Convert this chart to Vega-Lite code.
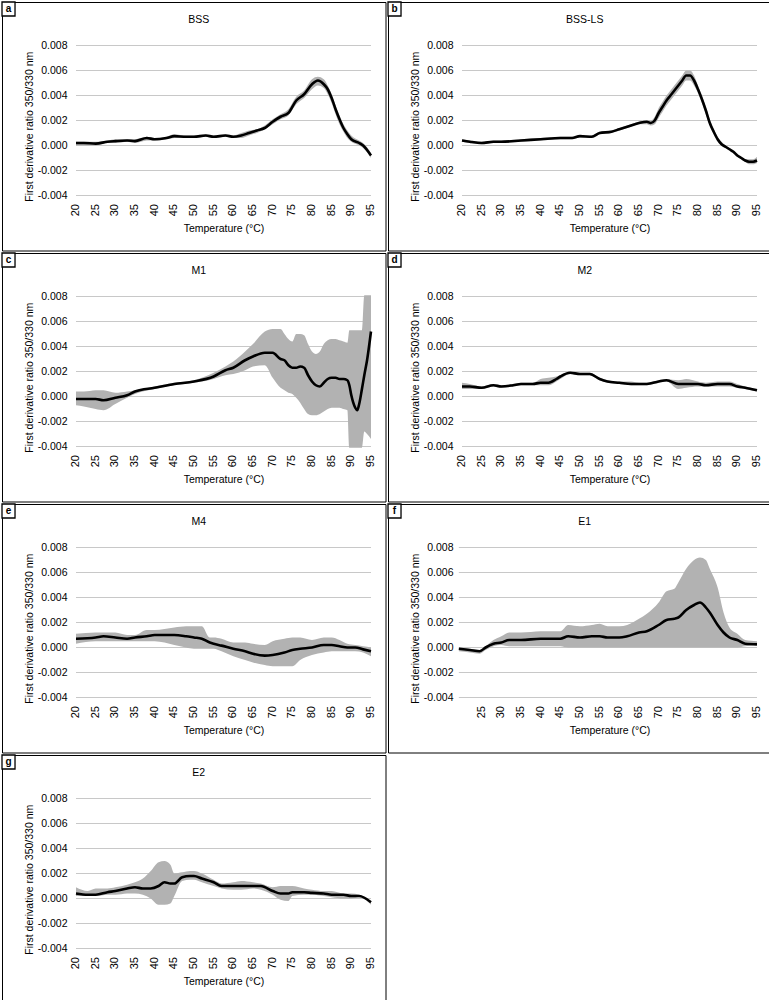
{
  "$schema": "https://vega.github.io/schema/vega-lite/v6.json",
  "padding": 0,
  "background": "white",
  "columns": 2,
  "spacing": 0,
  "datasets": {
    "grid": [{"v": -0.004}, {"v": -0.002}, {"v": 0}, {"v": 0.002}, {"v": 0.004}, {"v": 0.006}, {"v": 0.008}],
    "ticks": [{"v": 20}, {"v": 25}, {"v": 30}, {"v": 35}, {"v": 40}, {"v": 45}, {"v": 50}, {"v": 55}, {"v": 60}, {"v": 65}, {"v": 70}, {"v": 75}, {"v": 80}, {"v": 85}, {"v": 90}, {"v": 95}],
    "bss": [
      {"t": 20, "m": 0.0002, "lo": 0.0, "hi": 0.0003},
      {"t": 22, "m": 0.0002, "lo": 0.0, "hi": 0.0003},
      {"t": 25, "m": 0.00015, "lo": 0.0, "hi": 0.0003},
      {"t": 28, "m": 0.0003, "lo": 0.0002, "hi": 0.0004},
      {"t": 30, "m": 0.00035, "lo": 0.0002, "hi": 0.0005},
      {"t": 33, "m": 0.0004, "lo": 0.0003, "hi": 0.0005},
      {"t": 35, "m": 0.00035, "lo": 0.0002, "hi": 0.0005},
      {"t": 38, "m": 0.0006, "lo": 0.0004, "hi": 0.0007},
      {"t": 40, "m": 0.0005, "lo": 0.0004, "hi": 0.0006},
      {"t": 43, "m": 0.0006, "lo": 0.0005, "hi": 0.0007},
      {"t": 45, "m": 0.00075, "lo": 0.0006, "hi": 0.0009},
      {"t": 48, "m": 0.0007, "lo": 0.0006, "hi": 0.0008},
      {"t": 50, "m": 0.0007, "lo": 0.0006, "hi": 0.0008},
      {"t": 53, "m": 0.0008, "lo": 0.0007, "hi": 0.0009},
      {"t": 55, "m": 0.0007, "lo": 0.0006, "hi": 0.0008},
      {"t": 58, "m": 0.0008, "lo": 0.0007, "hi": 0.0009},
      {"t": 60, "m": 0.0007, "lo": 0.0006, "hi": 0.0008},
      {"t": 62, "m": 0.0008, "lo": 0.0006, "hi": 0.001},
      {"t": 64, "m": 0.001, "lo": 0.0008, "hi": 0.0012},
      {"t": 66, "m": 0.0012, "lo": 0.001, "hi": 0.0013},
      {"t": 68, "m": 0.0014, "lo": 0.0013, "hi": 0.0016},
      {"t": 70, "m": 0.0019, "lo": 0.0017, "hi": 0.0021},
      {"t": 72, "m": 0.0023, "lo": 0.0021, "hi": 0.0025},
      {"t": 74, "m": 0.0026, "lo": 0.0024, "hi": 0.0029},
      {"t": 76, "m": 0.0036, "lo": 0.0033, "hi": 0.0039},
      {"t": 78, "m": 0.0041, "lo": 0.0038, "hi": 0.0044},
      {"t": 80, "m": 0.0049, "lo": 0.0045, "hi": 0.0053},
      {"t": 81.5, "m": 0.0052, "lo": 0.0048, "hi": 0.0055},
      {"t": 83, "m": 0.0049, "lo": 0.0046, "hi": 0.0053},
      {"t": 84, "m": 0.0045, "lo": 0.0041, "hi": 0.0048},
      {"t": 85, "m": 0.0038, "lo": 0.0034, "hi": 0.0041},
      {"t": 86, "m": 0.0029, "lo": 0.0025, "hi": 0.0032},
      {"t": 87, "m": 0.0021, "lo": 0.0017, "hi": 0.0024},
      {"t": 88, "m": 0.0014, "lo": 0.0011, "hi": 0.0017},
      {"t": 89, "m": 0.0009, "lo": 0.0006, "hi": 0.0012},
      {"t": 90, "m": 0.0005, "lo": 0.0003, "hi": 0.0008},
      {"t": 92, "m": 0.0002, "lo": 0.0, "hi": 0.0004},
      {"t": 93, "m": 0.0, "lo": -0.0002, "hi": 0.0002},
      {"t": 95, "m": -0.0008, "lo": -0.001, "hi": -0.0006}
    ],
    "bssls": [
      {"t": 20, "m": 0.0004, "lo": 0.0003, "hi": 0.0005},
      {"t": 22, "m": 0.0003, "lo": 0.0002, "hi": 0.0004},
      {"t": 25, "m": 0.0002, "lo": 0.0001, "hi": 0.0003},
      {"t": 28, "m": 0.0003, "lo": 0.0002, "hi": 0.0004},
      {"t": 30, "m": 0.0003, "lo": 0.0002, "hi": 0.0004},
      {"t": 35, "m": 0.0004, "lo": 0.0003, "hi": 0.0005},
      {"t": 40, "m": 0.0005, "lo": 0.0004, "hi": 0.0006},
      {"t": 45, "m": 0.0006, "lo": 0.0005, "hi": 0.0007},
      {"t": 48, "m": 0.0006, "lo": 0.0005, "hi": 0.0007},
      {"t": 50, "m": 0.00075, "lo": 0.00065, "hi": 0.00085},
      {"t": 53, "m": 0.0007, "lo": 0.0006, "hi": 0.0008},
      {"t": 55, "m": 0.001, "lo": 0.0009, "hi": 0.0011},
      {"t": 58, "m": 0.0011, "lo": 0.001, "hi": 0.0012},
      {"t": 60, "m": 0.0013, "lo": 0.0012, "hi": 0.0014},
      {"t": 62, "m": 0.0015, "lo": 0.0014, "hi": 0.0016},
      {"t": 65, "m": 0.0018, "lo": 0.0017, "hi": 0.0019},
      {"t": 67, "m": 0.0019, "lo": 0.0017, "hi": 0.002},
      {"t": 68, "m": 0.0018, "lo": 0.0016, "hi": 0.002},
      {"t": 69, "m": 0.002, "lo": 0.0017, "hi": 0.0023},
      {"t": 70, "m": 0.0026, "lo": 0.0022, "hi": 0.003},
      {"t": 71, "m": 0.0031, "lo": 0.0027, "hi": 0.0035},
      {"t": 72, "m": 0.0036, "lo": 0.0032, "hi": 0.004},
      {"t": 73, "m": 0.004, "lo": 0.0036, "hi": 0.0044},
      {"t": 74, "m": 0.0044, "lo": 0.004, "hi": 0.0048},
      {"t": 75, "m": 0.0048, "lo": 0.0044, "hi": 0.0052},
      {"t": 76, "m": 0.0052, "lo": 0.0048, "hi": 0.0056},
      {"t": 77, "m": 0.0056, "lo": 0.0052, "hi": 0.006},
      {"t": 78, "m": 0.0056, "lo": 0.0052, "hi": 0.006},
      {"t": 79, "m": 0.0052, "lo": 0.0048, "hi": 0.0056},
      {"t": 80, "m": 0.0045, "lo": 0.0042, "hi": 0.0048},
      {"t": 81, "m": 0.0037, "lo": 0.0034, "hi": 0.004},
      {"t": 82, "m": 0.0028, "lo": 0.0025, "hi": 0.0031},
      {"t": 83, "m": 0.0018, "lo": 0.0016, "hi": 0.0021},
      {"t": 84, "m": 0.0011, "lo": 0.0009, "hi": 0.0013},
      {"t": 85, "m": 0.0005, "lo": 0.0003, "hi": 0.0007},
      {"t": 86, "m": 0.0001, "lo": 0.0, "hi": 0.0003},
      {"t": 87, "m": -0.0001, "lo": -0.0002, "hi": 0.0},
      {"t": 88, "m": -0.0003, "lo": -0.0004, "hi": -0.0002},
      {"t": 89, "m": -0.0005, "lo": -0.0006, "hi": -0.0004},
      {"t": 90, "m": -0.0008, "lo": -0.0009, "hi": -0.0007},
      {"t": 91, "m": -0.001, "lo": -0.0011, "hi": -0.0009},
      {"t": 92, "m": -0.0012, "lo": -0.0013, "hi": -0.0011},
      {"t": 93, "m": -0.0013, "lo": -0.0015, "hi": -0.0011},
      {"t": 94, "m": -0.0013, "lo": -0.0015, "hi": -0.0011},
      {"t": 95, "m": -0.0012, "lo": -0.0014, "hi": -0.0009}
    ],
    "m1": [
      {"t": 20, "m": -0.0002, "lo": -0.0007, "hi": 0.0004},
      {"t": 22, "m": -0.0002, "lo": -0.0008, "hi": 0.0004},
      {"t": 25, "m": -0.0002, "lo": -0.001, "hi": 0.0005},
      {"t": 27, "m": -0.0003, "lo": -0.0011, "hi": 0.0005},
      {"t": 30, "m": -0.0001, "lo": -0.0006, "hi": 0.0003},
      {"t": 33, "m": 0.0001, "lo": -0.0001, "hi": 0.0004},
      {"t": 35, "m": 0.0004, "lo": 0.0002, "hi": 0.0005},
      {"t": 40, "m": 0.0007, "lo": 0.0006, "hi": 0.0008},
      {"t": 45, "m": 0.001, "lo": 0.0009, "hi": 0.0011},
      {"t": 50, "m": 0.0012, "lo": 0.0011, "hi": 0.0013},
      {"t": 55, "m": 0.0016, "lo": 0.0014, "hi": 0.0019},
      {"t": 58, "m": 0.0021, "lo": 0.0017, "hi": 0.0024},
      {"t": 60, "m": 0.0023, "lo": 0.0018, "hi": 0.0028},
      {"t": 63, "m": 0.0029, "lo": 0.0021, "hi": 0.0036},
      {"t": 65, "m": 0.0032, "lo": 0.0024, "hi": 0.0042},
      {"t": 68, "m": 0.0035, "lo": 0.0025, "hi": 0.0052},
      {"t": 70, "m": 0.0035, "lo": 0.0015, "hi": 0.0054},
      {"t": 72, "m": 0.003, "lo": 0.0007, "hi": 0.0054},
      {"t": 73, "m": 0.0029, "lo": 0.0005, "hi": 0.005},
      {"t": 74, "m": 0.0025, "lo": 0.0003, "hi": 0.0046},
      {"t": 75, "m": 0.0023, "lo": 0.0002, "hi": 0.0044},
      {"t": 76, "m": 0.0023, "lo": -0.0001, "hi": 0.005},
      {"t": 77, "m": 0.0024, "lo": -0.0005, "hi": 0.005},
      {"t": 78, "m": 0.0023, "lo": -0.001, "hi": 0.0049},
      {"t": 79, "m": 0.0017, "lo": -0.0014, "hi": 0.0042},
      {"t": 80, "m": 0.0012, "lo": -0.0015, "hi": 0.0036},
      {"t": 81, "m": 0.0009, "lo": -0.0015, "hi": 0.0034},
      {"t": 82, "m": 0.0008, "lo": -0.0014, "hi": 0.0036},
      {"t": 83, "m": 0.0011, "lo": -0.0012, "hi": 0.0042},
      {"t": 84, "m": 0.0014, "lo": -0.001, "hi": 0.0045},
      {"t": 85, "m": 0.0015, "lo": -0.0009, "hi": 0.0046},
      {"t": 86, "m": 0.0015, "lo": -0.0009, "hi": 0.0046},
      {"t": 87, "m": 0.0014, "lo": -0.0009, "hi": 0.0045},
      {"t": 88, "m": 0.0014, "lo": -0.001, "hi": 0.0044},
      {"t": 89, "m": 0.0013, "lo": -0.0011, "hi": 0.0043},
      {"t": 89.5, "m": 0.0009, "lo": -0.0041, "hi": 0.0053},
      {"t": 90, "m": 0.0001, "lo": -0.0041, "hi": 0.0053},
      {"t": 91, "m": -0.0009, "lo": -0.0041, "hi": 0.0053},
      {"t": 91.5, "m": -0.0011, "lo": -0.0041, "hi": 0.0053},
      {"t": 92, "m": -0.0006, "lo": -0.0041, "hi": 0.0053},
      {"t": 92.7, "m": 0.0006, "lo": -0.0041, "hi": 0.0053},
      {"t": 93.3, "m": 0.0017, "lo": -0.0028, "hi": 0.0081},
      {"t": 94, "m": 0.0029, "lo": -0.003, "hi": 0.0081},
      {"t": 95, "m": 0.0052, "lo": -0.0034, "hi": 0.0081}
    ],
    "m2": [
      {"t": 20, "m": 0.0008, "lo": 0.0006, "hi": 0.0011},
      {"t": 22, "m": 0.0008, "lo": 0.0006, "hi": 0.001},
      {"t": 25, "m": 0.0007, "lo": 0.0006, "hi": 0.0008},
      {"t": 28, "m": 0.0009, "lo": 0.0008, "hi": 0.001},
      {"t": 30, "m": 0.0008, "lo": 0.0007, "hi": 0.0009},
      {"t": 33, "m": 0.0009, "lo": 0.0008, "hi": 0.001},
      {"t": 35, "m": 0.001, "lo": 0.0009, "hi": 0.0011},
      {"t": 38, "m": 0.001, "lo": 0.0009, "hi": 0.0011},
      {"t": 40, "m": 0.0011, "lo": 0.0009, "hi": 0.0014},
      {"t": 42, "m": 0.0011, "lo": 0.0009, "hi": 0.0015},
      {"t": 44, "m": 0.0014, "lo": 0.0012, "hi": 0.0016},
      {"t": 45, "m": 0.0016, "lo": 0.0014, "hi": 0.0017},
      {"t": 47.5, "m": 0.0019, "lo": 0.0018, "hi": 0.002},
      {"t": 50, "m": 0.0018, "lo": 0.0017, "hi": 0.0019},
      {"t": 52.5, "m": 0.0018, "lo": 0.0017, "hi": 0.0019},
      {"t": 55, "m": 0.0014, "lo": 0.0013, "hi": 0.0015},
      {"t": 57, "m": 0.0012, "lo": 0.0011, "hi": 0.0013},
      {"t": 60, "m": 0.0011, "lo": 0.001, "hi": 0.0012},
      {"t": 63, "m": 0.001, "lo": 0.0009, "hi": 0.0012},
      {"t": 65, "m": 0.001, "lo": 0.0009, "hi": 0.0011},
      {"t": 67, "m": 0.001, "lo": 0.0009, "hi": 0.0011},
      {"t": 70, "m": 0.0012, "lo": 0.0011, "hi": 0.0013},
      {"t": 72, "m": 0.0013, "lo": 0.0012, "hi": 0.0014},
      {"t": 75, "m": 0.001, "lo": 0.0006, "hi": 0.0013},
      {"t": 77, "m": 0.001, "lo": 0.0007, "hi": 0.0014},
      {"t": 80, "m": 0.001, "lo": 0.0008, "hi": 0.0012},
      {"t": 82, "m": 0.0009, "lo": 0.0008, "hi": 0.0011},
      {"t": 85, "m": 0.001, "lo": 0.0008, "hi": 0.0012},
      {"t": 88, "m": 0.001, "lo": 0.0008, "hi": 0.0012},
      {"t": 90, "m": 0.0008, "lo": 0.0007, "hi": 0.001},
      {"t": 92, "m": 0.0007, "lo": 0.0006, "hi": 0.0008},
      {"t": 95, "m": 0.0005, "lo": 0.0004, "hi": 0.0006}
    ],
    "m4": [
      {"t": 20, "m": 0.0007, "lo": 0.0003, "hi": 0.0011},
      {"t": 25, "m": 0.0008, "lo": 0.0005, "hi": 0.0012},
      {"t": 27, "m": 0.0009, "lo": 0.0005, "hi": 0.0012},
      {"t": 30, "m": 0.0008, "lo": 0.0005, "hi": 0.0012},
      {"t": 33, "m": 0.0007, "lo": 0.0005, "hi": 0.001},
      {"t": 35, "m": 0.0008, "lo": 0.0005, "hi": 0.001},
      {"t": 38, "m": 0.0009, "lo": 0.0005, "hi": 0.0014},
      {"t": 40, "m": 0.001, "lo": 0.0005, "hi": 0.0014},
      {"t": 45, "m": 0.001, "lo": 0.0002, "hi": 0.0016},
      {"t": 48, "m": 0.0009, "lo": 0.0, "hi": 0.0017},
      {"t": 50, "m": 0.0008, "lo": -0.0001, "hi": 0.0017},
      {"t": 52, "m": 0.0007, "lo": -0.0001, "hi": 0.0017},
      {"t": 54, "m": 0.0004, "lo": -0.0001, "hi": 0.0008},
      {"t": 55, "m": 0.0003, "lo": -0.0001, "hi": 0.0008},
      {"t": 57, "m": 0.00015, "lo": -0.0003, "hi": 0.0007},
      {"t": 60, "m": -0.0001, "lo": -0.0007, "hi": 0.0004},
      {"t": 63, "m": -0.0003, "lo": -0.001, "hi": 0.0004},
      {"t": 65, "m": -0.0005, "lo": -0.0012, "hi": 0.0003},
      {"t": 68, "m": -0.00065, "lo": -0.0014, "hi": 0.0002},
      {"t": 70, "m": -0.0006, "lo": -0.0015, "hi": 0.0005},
      {"t": 73, "m": -0.0004, "lo": -0.0015, "hi": 0.0007},
      {"t": 75, "m": -0.0002, "lo": -0.0015, "hi": 0.0008},
      {"t": 77, "m": -0.0001, "lo": -0.001, "hi": 0.0008},
      {"t": 80, "m": 0.0, "lo": -0.0006, "hi": 0.0006},
      {"t": 83, "m": 0.0002, "lo": -0.0004, "hi": 0.0008},
      {"t": 85, "m": 0.0002, "lo": -0.0003, "hi": 0.0008},
      {"t": 87, "m": 0.0001, "lo": -0.0003, "hi": 0.0006},
      {"t": 89, "m": 0.0, "lo": -0.0003, "hi": 0.0003},
      {"t": 91, "m": 0.0, "lo": -0.0003, "hi": 0.0002},
      {"t": 93, "m": -0.00015, "lo": -0.0004, "hi": 0.0001},
      {"t": 95, "m": -0.0003, "lo": -0.0007, "hi": 0.0}
    ],
    "e1": [
      {"t": 19.2, "m": -0.0001, "lo": -0.0003, "hi": 0.0},
      {"t": 22, "m": -0.0002, "lo": -0.0004, "hi": -0.0001},
      {"t": 24.5, "m": -0.0003, "lo": -0.0005, "hi": -0.0002},
      {"t": 26, "m": 0.0, "lo": -0.0002, "hi": 0.0001},
      {"t": 28, "m": 0.0003, "lo": 0.0001, "hi": 0.0006},
      {"t": 30, "m": 0.0004, "lo": 0.0002, "hi": 0.0009},
      {"t": 32, "m": 0.0006, "lo": 0.0001, "hi": 0.0012},
      {"t": 35, "m": 0.0006, "lo": 0.0001, "hi": 0.0012},
      {"t": 40, "m": 0.0007, "lo": 0.0001, "hi": 0.0013},
      {"t": 45, "m": 0.0007, "lo": 0.0001, "hi": 0.0013},
      {"t": 47, "m": 0.0009, "lo": 0.0, "hi": 0.0018},
      {"t": 50, "m": 0.0008, "lo": 0.0, "hi": 0.0017},
      {"t": 53, "m": 0.0009, "lo": 0.0, "hi": 0.0018},
      {"t": 55, "m": 0.0009, "lo": 0.0, "hi": 0.0019},
      {"t": 57, "m": 0.0008, "lo": 0.0, "hi": 0.0017},
      {"t": 60, "m": 0.0008, "lo": 0.0, "hi": 0.0017},
      {"t": 62, "m": 0.0009, "lo": 0.0, "hi": 0.0018},
      {"t": 65, "m": 0.0012, "lo": 0.0, "hi": 0.0023},
      {"t": 67, "m": 0.0013, "lo": 0.0, "hi": 0.0027},
      {"t": 70, "m": 0.0018, "lo": 0.0, "hi": 0.0036},
      {"t": 72, "m": 0.0022, "lo": 0.0, "hi": 0.0045},
      {"t": 74, "m": 0.0023, "lo": 0.0, "hi": 0.0047},
      {"t": 75, "m": 0.0024, "lo": 0.0, "hi": 0.0052},
      {"t": 77, "m": 0.003, "lo": 0.0, "hi": 0.0063},
      {"t": 79, "m": 0.0034, "lo": 0.0, "hi": 0.007},
      {"t": 80.5, "m": 0.0036, "lo": 0.0, "hi": 0.0072},
      {"t": 82, "m": 0.0032, "lo": 0.0, "hi": 0.007},
      {"t": 83, "m": 0.0028, "lo": 0.0, "hi": 0.0063},
      {"t": 85, "m": 0.0018, "lo": 0.0, "hi": 0.0048},
      {"t": 86.5, "m": 0.0012, "lo": 0.0, "hi": 0.0028},
      {"t": 88, "m": 0.0008, "lo": 0.0, "hi": 0.0016},
      {"t": 90, "m": 0.0006, "lo": 0.0, "hi": 0.0011},
      {"t": 92, "m": 0.0003, "lo": 0.0001, "hi": 0.0006},
      {"t": 95, "m": 0.00025, "lo": 0.0002, "hi": 0.0005}
    ],
    "e2": [
      {"t": 20, "m": 0.0004, "lo": 0.0002, "hi": 0.0009},
      {"t": 23, "m": 0.0003, "lo": 0.0002, "hi": 0.0006},
      {"t": 25, "m": 0.0003, "lo": 0.0002, "hi": 0.0008},
      {"t": 28, "m": 0.0005, "lo": 0.0003, "hi": 0.0008},
      {"t": 30, "m": 0.0006, "lo": 0.0003, "hi": 0.0009},
      {"t": 33, "m": 0.0008, "lo": 0.0004, "hi": 0.0011},
      {"t": 35, "m": 0.0009, "lo": 0.0004, "hi": 0.0013},
      {"t": 37, "m": 0.0008, "lo": 0.0003, "hi": 0.0016},
      {"t": 39, "m": 0.0008, "lo": 0.0, "hi": 0.0022},
      {"t": 41, "m": 0.001, "lo": -0.0005, "hi": 0.0029},
      {"t": 42.5, "m": 0.0013, "lo": -0.0005, "hi": 0.003},
      {"t": 44, "m": 0.0012, "lo": -0.0004, "hi": 0.0027},
      {"t": 45, "m": 0.0012, "lo": 0.0002, "hi": 0.002},
      {"t": 47, "m": 0.0017, "lo": 0.0014, "hi": 0.0021},
      {"t": 49, "m": 0.0018, "lo": 0.0015, "hi": 0.0022},
      {"t": 50, "m": 0.0018, "lo": 0.0015, "hi": 0.0022},
      {"t": 52, "m": 0.0016, "lo": 0.0013, "hi": 0.002},
      {"t": 55, "m": 0.0013, "lo": 0.001, "hi": 0.0015},
      {"t": 57, "m": 0.001, "lo": 0.0008, "hi": 0.0012},
      {"t": 60, "m": 0.001, "lo": 0.0007, "hi": 0.0013},
      {"t": 62, "m": 0.001, "lo": 0.0007, "hi": 0.0014},
      {"t": 65, "m": 0.001, "lo": 0.0008, "hi": 0.0013},
      {"t": 67, "m": 0.001, "lo": 0.0007, "hi": 0.0012},
      {"t": 70, "m": 0.0006, "lo": 0.0003, "hi": 0.0009},
      {"t": 72, "m": 0.0004, "lo": -0.0001, "hi": 0.001},
      {"t": 74, "m": 0.0004, "lo": -0.0002, "hi": 0.001},
      {"t": 75, "m": 0.0005, "lo": 0.0002, "hi": 0.001},
      {"t": 78, "m": 0.0005, "lo": 0.0003, "hi": 0.0008},
      {"t": 80, "m": 0.00045, "lo": 0.0003, "hi": 0.0007},
      {"t": 83, "m": 0.0004, "lo": 0.0002, "hi": 0.0006},
      {"t": 85, "m": 0.0003, "lo": 0.0001, "hi": 0.0006},
      {"t": 88, "m": 0.0003, "lo": 0.0, "hi": 0.0004},
      {"t": 90, "m": 0.0002, "lo": 0.0, "hi": 0.0004},
      {"t": 92, "m": 0.0002, "lo": 0.0001, "hi": 0.0003},
      {"t": 95, "m": -0.0003, "lo": -0.0005, "hi": -0.0002}
    ]
  },
  "concat": [
    {
      "title": "BSS",
      "width": 383.5,
      "height": 248.5,
      "layer": [
        {
          "data": {"name": "grid"},
          "mark": {"type": "rule", "color": "#c8c8c8", "strokeWidth": 1},
          "encoding": {
            "x": {"datum": 20, "type": "quantitative", "scale": {"domain": [1.19, 98.69], "nice": false, "zero": false}},
            "x2": {"datum": 95},
            "y": {"field": "v", "type": "quantitative", "scale": {"domain": [-0.0084, 0.01148], "nice": false, "zero": false}}
          }
        },
        {
          "data": {"name": "bss"},
          "mark": {"type": "area", "color": "#b2b2b2", "interpolate": "monotone"},
          "encoding": {
            "x": {"field": "t", "type": "quantitative", "scale": {"domain": [1.19, 98.69], "nice": false, "zero": false},
                  "axis": {"labels": false, "title": "Temperature (°C)"}},
            "y": {"field": "lo", "type": "quantitative", "scale": {"domain": [-0.0084, 0.01148], "nice": false, "zero": false},
                  "axis": {"values": [-0.004, -0.002, 0, 0.002, 0.004, 0.006, 0.008], "format": ".3f", "title": "First derivative ratio 350/330 nm"}},
            "y2": {"field": "hi"}
          }
        },
        {
          "data": {"name": "bss"},
          "mark": {"type": "line", "color": "black", "strokeWidth": 2.6, "interpolate": "monotone"},
          "encoding": {"x": {"field": "t", "type": "quantitative"}, "y": {"field": "m", "type": "quantitative"}}
        },
        {
          "data": {"name": "ticks"},
          "mark": {"type": "text", "angle": 270, "align": "right", "baseline": "middle", "dx": -8.5, "fontSize": 11, "color": "black"},
          "encoding": {"x": {"field": "v", "type": "quantitative"}, "y": {"datum": -0.004, "type": "quantitative"}, "text": {"field": "v", "type": "quantitative"}}
        },
        {
          "data": {"values": [{"letter": "a"}]},
          "mark": {"type": "rect", "fill": "white", "stroke": "black", "strokeWidth": 1.3},
          "encoding": {"x": {"datum": 1.19, "type": "quantitative"}, "x2": {"datum": 4.5}, "y": {"datum": 0.01148, "type": "quantitative"}, "y2": {"datum": 0.01036}}
        },
        {
          "data": {"values": [{"letter": "a"}]},
          "mark": {"type": "text", "fontWeight": "bold", "fontSize": 10},
          "encoding": {"x": {"datum": 2.85, "type": "quantitative"}, "y": {"datum": 0.01092, "type": "quantitative"}, "text": {"field": "letter"}}
        }
      ]
    },
    {
      "title": "BSS-LS",
      "width": 383.5,
      "height": 248.5,
      "layer": [
        {
          "data": {"name": "grid"},
          "mark": {"type": "rule", "color": "#c8c8c8", "strokeWidth": 1},
          "encoding": {
            "x": {"datum": 20, "type": "quantitative", "scale": {"domain": [1.19, 98.69], "nice": false, "zero": false}},
            "x2": {"datum": 95},
            "y": {"field": "v", "type": "quantitative", "scale": {"domain": [-0.0084, 0.01148], "nice": false, "zero": false}}
          }
        },
        {
          "data": {"name": "bssls"},
          "mark": {"type": "area", "color": "#b2b2b2", "interpolate": "monotone"},
          "encoding": {
            "x": {"field": "t", "type": "quantitative", "scale": {"domain": [1.19, 98.69], "nice": false, "zero": false},
                  "axis": {"labels": false, "title": "Temperature (°C)"}},
            "y": {"field": "lo", "type": "quantitative", "scale": {"domain": [-0.0084, 0.01148], "nice": false, "zero": false},
                  "axis": {"values": [-0.004, -0.002, 0, 0.002, 0.004, 0.006, 0.008], "format": ".3f", "title": "First derivative ratio 350/330 nm"}},
            "y2": {"field": "hi"}
          }
        },
        {
          "data": {"name": "bssls"},
          "mark": {"type": "line", "color": "black", "strokeWidth": 2.6, "interpolate": "monotone"},
          "encoding": {"x": {"field": "t", "type": "quantitative"}, "y": {"field": "m", "type": "quantitative"}}
        },
        {
          "data": {"name": "ticks"},
          "mark": {"type": "text", "angle": 270, "align": "right", "baseline": "middle", "dx": -8.5, "fontSize": 11, "color": "black"},
          "encoding": {"x": {"field": "v", "type": "quantitative"}, "y": {"datum": -0.004, "type": "quantitative"}, "text": {"field": "v", "type": "quantitative"}}
        },
        {
          "data": {"values": [{"letter": "b"}]},
          "mark": {"type": "rect", "fill": "white", "stroke": "black", "strokeWidth": 1.3},
          "encoding": {"x": {"datum": 1.19, "type": "quantitative"}, "x2": {"datum": 4.5}, "y": {"datum": 0.01148, "type": "quantitative"}, "y2": {"datum": 0.01036}}
        },
        {
          "data": {"values": [{"letter": "b"}]},
          "mark": {"type": "text", "fontWeight": "bold", "fontSize": 10},
          "encoding": {"x": {"datum": 2.85, "type": "quantitative"}, "y": {"datum": 0.01092, "type": "quantitative"}, "text": {"field": "letter"}}
        }
      ]
    },
    {
      "title": "M1",
      "width": 383.5,
      "height": 248.5,
      "layer": [
        {
          "data": {"name": "grid"},
          "mark": {"type": "rule", "color": "#c8c8c8", "strokeWidth": 1},
          "encoding": {
            "x": {"datum": 20, "type": "quantitative", "scale": {"domain": [1.19, 98.69], "nice": false, "zero": false}},
            "x2": {"datum": 95},
            "y": {"field": "v", "type": "quantitative", "scale": {"domain": [-0.0084, 0.01148], "nice": false, "zero": false}}
          }
        },
        {
          "data": {"name": "m1"},
          "mark": {"type": "area", "color": "#b2b2b2", "interpolate": "monotone"},
          "encoding": {
            "x": {"field": "t", "type": "quantitative", "scale": {"domain": [1.19, 98.69], "nice": false, "zero": false},
                  "axis": {"labels": false, "title": "Temperature (°C)"}},
            "y": {"field": "lo", "type": "quantitative", "scale": {"domain": [-0.0084, 0.01148], "nice": false, "zero": false},
                  "axis": {"values": [-0.004, -0.002, 0, 0.002, 0.004, 0.006, 0.008], "format": ".3f", "title": "First derivative ratio 350/330 nm"}},
            "y2": {"field": "hi"}
          }
        },
        {
          "data": {"name": "m1"},
          "mark": {"type": "line", "color": "black", "strokeWidth": 2.6, "interpolate": "monotone"},
          "encoding": {"x": {"field": "t", "type": "quantitative"}, "y": {"field": "m", "type": "quantitative"}}
        },
        {
          "data": {"name": "ticks"},
          "mark": {"type": "text", "angle": 270, "align": "right", "baseline": "middle", "dx": -8.5, "fontSize": 11, "color": "black"},
          "encoding": {"x": {"field": "v", "type": "quantitative"}, "y": {"datum": -0.004, "type": "quantitative"}, "text": {"field": "v", "type": "quantitative"}}
        },
        {
          "data": {"values": [{"letter": "c"}]},
          "mark": {"type": "rect", "fill": "white", "stroke": "black", "strokeWidth": 1.3},
          "encoding": {"x": {"datum": 1.19, "type": "quantitative"}, "x2": {"datum": 4.5}, "y": {"datum": 0.01148, "type": "quantitative"}, "y2": {"datum": 0.01036}}
        },
        {
          "data": {"values": [{"letter": "c"}]},
          "mark": {"type": "text", "fontWeight": "bold", "fontSize": 10},
          "encoding": {"x": {"datum": 2.85, "type": "quantitative"}, "y": {"datum": 0.01092, "type": "quantitative"}, "text": {"field": "letter"}}
        }
      ]
    },
    {
      "title": "M2",
      "width": 383.5,
      "height": 248.5,
      "layer": [
        {
          "data": {"name": "grid"},
          "mark": {"type": "rule", "color": "#c8c8c8", "strokeWidth": 1},
          "encoding": {
            "x": {"datum": 20, "type": "quantitative", "scale": {"domain": [1.19, 98.69], "nice": false, "zero": false}},
            "x2": {"datum": 95},
            "y": {"field": "v", "type": "quantitative", "scale": {"domain": [-0.0084, 0.01148], "nice": false, "zero": false}}
          }
        },
        {
          "data": {"name": "m2"},
          "mark": {"type": "area", "color": "#b2b2b2", "interpolate": "monotone"},
          "encoding": {
            "x": {"field": "t", "type": "quantitative", "scale": {"domain": [1.19, 98.69], "nice": false, "zero": false},
                  "axis": {"labels": false, "title": "Temperature (°C)"}},
            "y": {"field": "lo", "type": "quantitative", "scale": {"domain": [-0.0084, 0.01148], "nice": false, "zero": false},
                  "axis": {"values": [-0.004, -0.002, 0, 0.002, 0.004, 0.006, 0.008], "format": ".3f", "title": "First derivative ratio 350/330 nm"}},
            "y2": {"field": "hi"}
          }
        },
        {
          "data": {"name": "m2"},
          "mark": {"type": "line", "color": "black", "strokeWidth": 2.6, "interpolate": "monotone"},
          "encoding": {"x": {"field": "t", "type": "quantitative"}, "y": {"field": "m", "type": "quantitative"}}
        },
        {
          "data": {"name": "ticks"},
          "mark": {"type": "text", "angle": 270, "align": "right", "baseline": "middle", "dx": -8.5, "fontSize": 11, "color": "black"},
          "encoding": {"x": {"field": "v", "type": "quantitative"}, "y": {"datum": -0.004, "type": "quantitative"}, "text": {"field": "v", "type": "quantitative"}}
        },
        {
          "data": {"values": [{"letter": "d"}]},
          "mark": {"type": "rect", "fill": "white", "stroke": "black", "strokeWidth": 1.3},
          "encoding": {"x": {"datum": 1.19, "type": "quantitative"}, "x2": {"datum": 4.5}, "y": {"datum": 0.01148, "type": "quantitative"}, "y2": {"datum": 0.01036}}
        },
        {
          "data": {"values": [{"letter": "d"}]},
          "mark": {"type": "text", "fontWeight": "bold", "fontSize": 10},
          "encoding": {"x": {"datum": 2.85, "type": "quantitative"}, "y": {"datum": 0.01092, "type": "quantitative"}, "text": {"field": "letter"}}
        }
      ]
    },
    {
      "title": "M4",
      "width": 383.5,
      "height": 248.5,
      "layer": [
        {
          "data": {"name": "grid"},
          "mark": {"type": "rule", "color": "#c8c8c8", "strokeWidth": 1},
          "encoding": {
            "x": {"datum": 20, "type": "quantitative", "scale": {"domain": [1.19, 98.69], "nice": false, "zero": false}},
            "x2": {"datum": 95},
            "y": {"field": "v", "type": "quantitative", "scale": {"domain": [-0.0084, 0.01148], "nice": false, "zero": false}}
          }
        },
        {
          "data": {"name": "m4"},
          "mark": {"type": "area", "color": "#b2b2b2", "interpolate": "monotone"},
          "encoding": {
            "x": {"field": "t", "type": "quantitative", "scale": {"domain": [1.19, 98.69], "nice": false, "zero": false},
                  "axis": {"labels": false, "title": "Temperature (°C)"}},
            "y": {"field": "lo", "type": "quantitative", "scale": {"domain": [-0.0084, 0.01148], "nice": false, "zero": false},
                  "axis": {"values": [-0.004, -0.002, 0, 0.002, 0.004, 0.006, 0.008], "format": ".3f", "title": "First derivative ratio 350/330 nm"}},
            "y2": {"field": "hi"}
          }
        },
        {
          "data": {"name": "m4"},
          "mark": {"type": "line", "color": "black", "strokeWidth": 2.6, "interpolate": "monotone"},
          "encoding": {"x": {"field": "t", "type": "quantitative"}, "y": {"field": "m", "type": "quantitative"}}
        },
        {
          "data": {"name": "ticks"},
          "mark": {"type": "text", "angle": 270, "align": "right", "baseline": "middle", "dx": -8.5, "fontSize": 11, "color": "black"},
          "encoding": {"x": {"field": "v", "type": "quantitative"}, "y": {"datum": -0.004, "type": "quantitative"}, "text": {"field": "v", "type": "quantitative"}}
        },
        {
          "data": {"values": [{"letter": "e"}]},
          "mark": {"type": "rect", "fill": "white", "stroke": "black", "strokeWidth": 1.3},
          "encoding": {"x": {"datum": 1.19, "type": "quantitative"}, "x2": {"datum": 4.5}, "y": {"datum": 0.01148, "type": "quantitative"}, "y2": {"datum": 0.01036}}
        },
        {
          "data": {"values": [{"letter": "e"}]},
          "mark": {"type": "text", "fontWeight": "bold", "fontSize": 10},
          "encoding": {"x": {"datum": 2.85, "type": "quantitative"}, "y": {"datum": 0.01092, "type": "quantitative"}, "text": {"field": "letter"}}
        }
      ]
    },
    {
      "title": "E1",
      "width": 383.5,
      "height": 248.5,
      "layer": [
        {
          "data": {"name": "grid"},
          "mark": {"type": "rule", "color": "#c8c8c8", "strokeWidth": 1},
          "encoding": {
            "x": {"datum": 19.2, "type": "quantitative", "scale": {"domain": [1.19, 98.69], "nice": false, "zero": false}},
            "x2": {"datum": 95},
            "y": {"field": "v", "type": "quantitative", "scale": {"domain": [-0.0084, 0.01148], "nice": false, "zero": false}}
          }
        },
        {
          "data": {"name": "e1"},
          "mark": {"type": "area", "color": "#b2b2b2", "interpolate": "monotone"},
          "encoding": {
            "x": {"field": "t", "type": "quantitative", "scale": {"domain": [1.19, 98.69], "nice": false, "zero": false},
                  "axis": {"labels": false, "title": "Temperature (°C)"}},
            "y": {"field": "lo", "type": "quantitative", "scale": {"domain": [-0.0084, 0.01148], "nice": false, "zero": false},
                  "axis": {"values": [-0.004, -0.002, 0, 0.002, 0.004, 0.006, 0.008], "format": ".3f", "title": "First derivative ratio 350/330 nm"}},
            "y2": {"field": "hi"}
          }
        },
        {
          "data": {"name": "e1"},
          "mark": {"type": "line", "color": "black", "strokeWidth": 2.6, "interpolate": "monotone"},
          "encoding": {"x": {"field": "t", "type": "quantitative"}, "y": {"field": "m", "type": "quantitative"}}
        },
        {
          "data": {"name": "ticks"},
          "transform": [{"filter": "datum.v >= 25"}],
          "mark": {"type": "text", "angle": 270, "align": "right", "baseline": "middle", "dx": -8.5, "fontSize": 11, "color": "black"},
          "encoding": {"x": {"field": "v", "type": "quantitative"}, "y": {"datum": -0.004, "type": "quantitative"}, "text": {"field": "v", "type": "quantitative"}}
        },
        {
          "data": {"values": [{"letter": "f"}]},
          "mark": {"type": "rect", "fill": "white", "stroke": "black", "strokeWidth": 1.3},
          "encoding": {"x": {"datum": 1.19, "type": "quantitative"}, "x2": {"datum": 4.5}, "y": {"datum": 0.01148, "type": "quantitative"}, "y2": {"datum": 0.01036}}
        },
        {
          "data": {"values": [{"letter": "f"}]},
          "mark": {"type": "text", "fontWeight": "bold", "fontSize": 10},
          "encoding": {"x": {"datum": 2.85, "type": "quantitative"}, "y": {"datum": 0.01092, "type": "quantitative"}, "text": {"field": "letter"}}
        }
      ]
    },
    {
      "title": "E2",
      "width": 383.5,
      "height": 248.5,
      "layer": [
        {
          "data": {"name": "grid"},
          "mark": {"type": "rule", "color": "#c8c8c8", "strokeWidth": 1},
          "encoding": {
            "x": {"datum": 20, "type": "quantitative", "scale": {"domain": [1.19, 98.69], "nice": false, "zero": false}},
            "x2": {"datum": 95},
            "y": {"field": "v", "type": "quantitative", "scale": {"domain": [-0.0084, 0.01148], "nice": false, "zero": false}}
          }
        },
        {
          "data": {"name": "e2"},
          "mark": {"type": "area", "color": "#b2b2b2", "interpolate": "monotone"},
          "encoding": {
            "x": {"field": "t", "type": "quantitative", "scale": {"domain": [1.19, 98.69], "nice": false, "zero": false},
                  "axis": {"labels": false, "title": "Temperature (°C)"}},
            "y": {"field": "lo", "type": "quantitative", "scale": {"domain": [-0.0084, 0.01148], "nice": false, "zero": false},
                  "axis": {"values": [-0.004, -0.002, 0, 0.002, 0.004, 0.006, 0.008], "format": ".3f", "title": "First derivative ratio 350/330 nm"}},
            "y2": {"field": "hi"}
          }
        },
        {
          "data": {"name": "e2"},
          "mark": {"type": "line", "color": "black", "strokeWidth": 2.6, "interpolate": "monotone"},
          "encoding": {"x": {"field": "t", "type": "quantitative"}, "y": {"field": "m", "type": "quantitative"}}
        },
        {
          "data": {"name": "ticks"},
          "mark": {"type": "text", "angle": 270, "align": "right", "baseline": "middle", "dx": -8.5, "fontSize": 11, "color": "black"},
          "encoding": {"x": {"field": "v", "type": "quantitative"}, "y": {"datum": -0.004, "type": "quantitative"}, "text": {"field": "v", "type": "quantitative"}}
        },
        {
          "data": {"values": [{"letter": "g"}]},
          "mark": {"type": "rect", "fill": "white", "stroke": "black", "strokeWidth": 1.3},
          "encoding": {"x": {"datum": 1.19, "type": "quantitative"}, "x2": {"datum": 4.5}, "y": {"datum": 0.01148, "type": "quantitative"}, "y2": {"datum": 0.01036}}
        },
        {
          "data": {"values": [{"letter": "g"}]},
          "mark": {"type": "text", "fontWeight": "bold", "fontSize": 10},
          "encoding": {"x": {"datum": 2.85, "type": "quantitative"}, "y": {"datum": 0.01092, "type": "quantitative"}, "text": {"field": "letter"}}
        }
      ]
    }
  ],
  "config": {
    "font": "Liberation Sans",
    "view": {"stroke": "black", "strokeWidth": 1},
    "title": {"fontSize": 10.5, "fontWeight": "normal", "color": "black", "anchor": "middle", "offset": -24, "dx": 5},
    "axisX": {
      "offset": -55,
      "domain": false,
      "ticks": false,
      "grid": false,
      "titleFontSize": 10.5,
      "titleFontWeight": "normal",
      "titleColor": "black",
      "titlePadding": 27.5,
      "titleX": 221.5
    },
    "axisY": {
      "offset": -74,
      "domain": false,
      "ticks": false,
      "grid": false,
      "labelPadding": 9,
      "labelFontSize": 10.5,
      "labelColor": "black",
      "titleFontSize": 10.5,
      "titleFontWeight": "normal",
      "titleColor": "black",
      "titlePadding": 3
    },
    "locale": {
      "number": {"decimal": ".", "thousands": ",", "grouping": [3], "currency": ["$", ""], "minus": "-"}
    }
  }
}
